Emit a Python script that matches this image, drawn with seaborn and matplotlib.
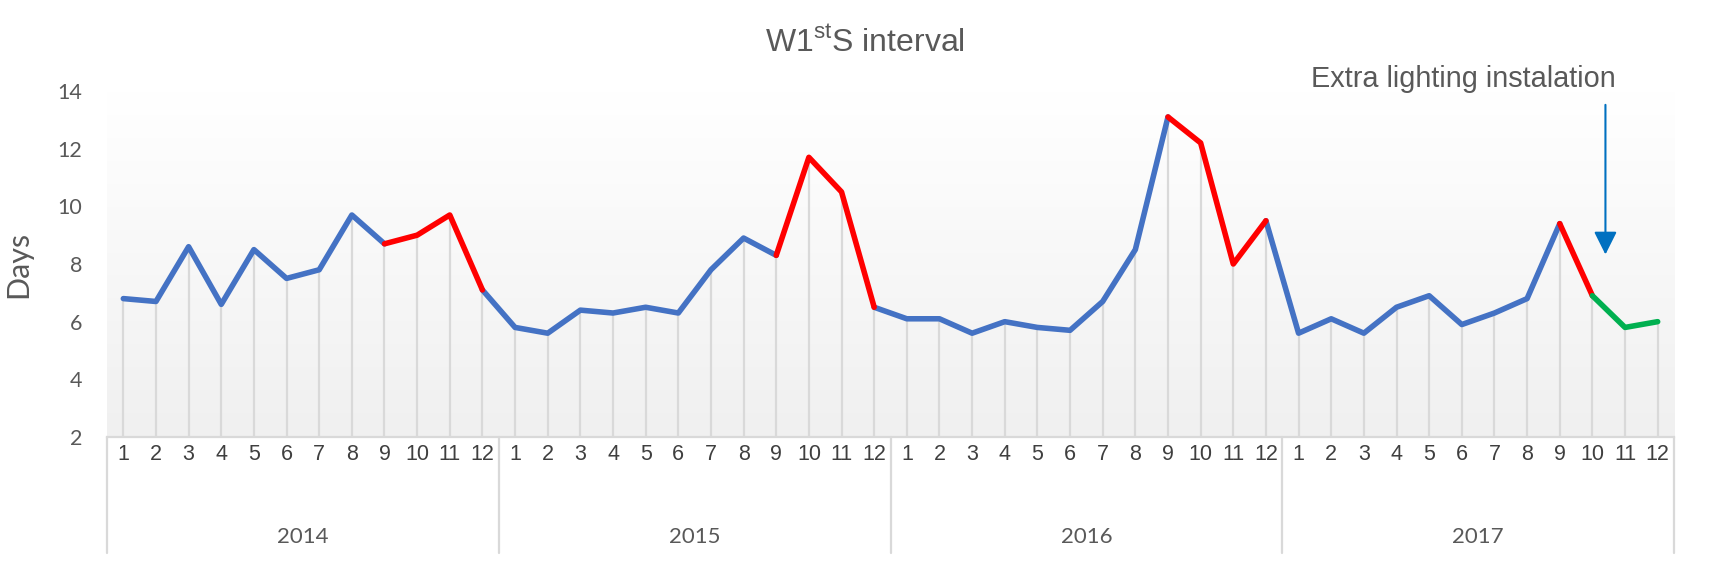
import numpy as np
import pandas as pd
import seaborn as sns
import matplotlib.pyplot as plt
from matplotlib.colors import LinearSegmentedColormap
from matplotlib.transforms import blended_transform_factory

# W1stS interval (days) per month
years = [2014, 2015, 2016, 2017]
months = list(range(1, 13))
days_2014 = [6.8, 6.7, 8.6, 6.6, 8.5, 7.5, 7.8, 9.7, 8.7, 9.0, 9.7, 7.1]
days_2015 = [5.8, 5.6, 6.4, 6.3, 6.5, 6.3, 7.8, 8.9, 8.3, 11.7, 10.5, 6.5]
days_2016 = [6.1, 6.1, 5.6, 6.0, 5.8, 5.7, 6.7, 8.5, 13.1, 12.2, 8.0, 9.5]
days_2017 = [5.6, 6.1, 5.6, 6.5, 6.9, 5.9, 6.3, 6.8, 9.4, 6.9, 5.8, 6.0]
autumn_months = [9, 10, 11]
installation = (2017, 10)
y_ticks = [2, 4, 6, 8, 10, 12, 14]

df = pd.DataFrame({
    "year": np.repeat(years, 12),
    "month": months * len(years),
    "days": days_2014 + days_2015 + days_2016 + days_2017,
})
df["x"] = np.arange(len(df))
inst_idx = df.index[(df.year == installation[0]) & (df.month == installation[1])][0]

# colour of each segment follows its starting point
kind = np.where(df.month.isin(autumn_months), "autumn", "normal")
kind = np.where(df.x >= inst_idx, "after", kind)
seg_kind = kind[:-1]
runs = []
start = 0
for i in range(1, len(seg_kind) + 1):
    if i == len(seg_kind) or seg_kind[i] != seg_kind[start]:
        runs.append((start, i, seg_kind[start]))
        start = i
rows = []
for r, (a, b, k) in enumerate(runs):
    for j in range(a, b + 1):
        rows.append({"x": j, "days": df.days[j], "run": r, "kind": k})
lines = pd.DataFrame(rows)

sns.set_theme(style="white")
plt.rcParams["font.family"] = ["Liberation Sans", "DejaVu Sans"]
plt.rcParams["mathtext.fontset"] = "custom"
plt.rcParams["mathtext.rm"] = "Liberation Sans"

fig = plt.figure(figsize=(17.1, 5.66), dpi=100)
ax = fig.add_axes([107 / 1710, 1 - 437 / 566, (1674 - 107) / 1710, (437 - 91) / 566])

n = len(df)
grad = LinearSegmentedColormap.from_list("g", ["#FFFFFF", "#F0F0F0"])
ax.imshow(np.linspace(0, 1, 256)[::-1].reshape(-1, 1), extent=(-0.5, n - 0.5, 2, 14),
          origin="lower", aspect="auto", cmap=grad, zorder=0)

ax.vlines(df.x, 2, df.days, color="#D9D9D9", lw=1.6, zorder=1)

palette = {"normal": "#4472C4", "autumn": "#FF0000", "after": "#00B050"}
sns.lineplot(data=lines, x="x", y="days", units="run", hue="kind", palette=palette,
             estimator=None, legend=False, lw=4, ax=ax, zorder=3,
             solid_capstyle="round", solid_joinstyle="round")

ax.set_xlim(-0.5, n - 0.5)
ax.set_ylim(2, 14)
ax.set_xlabel("")
ax.set_ylabel("Days", fontsize=22, color="#595959", family="Lato", labelpad=18)
for s in ["top", "right", "left"]:
    ax.spines[s].set_visible(False)
ax.spines["bottom"].set_color("#D9D9D9")
ax.spines["bottom"].set_linewidth(1.6)

ax.tick_params(axis="x", length=0, pad=5)
ax.tick_params(axis="y", length=0, pad=18)
ax.set_yticks(y_ticks)
ax.set_yticklabels([str(v) for v in y_ticks])
ax.set_xticks(df.x)
ax.set_xticklabels(df.month.astype(str))
for lab in ax.get_xticklabels():
    lab.set_fontfamily("Liberation Sans")
    lab.set_fontsize(15.5)
    lab.set_color("#3F3F3F")
for lab in ax.get_yticklabels():
    lab.set_fontfamily("Lato")
    lab.set_fontsize(15.5)
    lab.set_color("#595959")

trans = blended_transform_factory(ax.transData, ax.transAxes)
for k in range(len(years) + 1):
    ax.plot([k * 12 - 0.5] * 2, [0, -0.335], transform=trans, color="#D9D9D9",
            lw=1.6, clip_on=False)
for k, yr in enumerate(years):
    ax.text(k * 12 + 5.5, -0.289, str(yr), transform=trans, ha="center", va="center",
            family="Lato", fontsize=16, color="#595959")

fig.text(865 / 1710, 1 - 52 / 566, r"W1$^{\mathrm{st}}$S interval", ha="center",
         va="baseline", fontsize=23, color="#595959")

arrow_x = inst_idx + 0.4
ax.annotate("", xy=(arrow_x, 8.33), xytext=(arrow_x, 13.52), annotation_clip=False,
            arrowprops=dict(arrowstyle="-|>,head_length=1.0,head_width=0.5", color="#0070C0",
                            lw=1.5, shrinkA=0, shrinkB=0, mutation_scale=14))
fig.text(1463 / 1710, 1 - 79 / 566, "Extra lighting instalation", ha="center", va="center",
         fontsize=20.8, color="#595959")

fig.savefig("out.png", dpi=100)
